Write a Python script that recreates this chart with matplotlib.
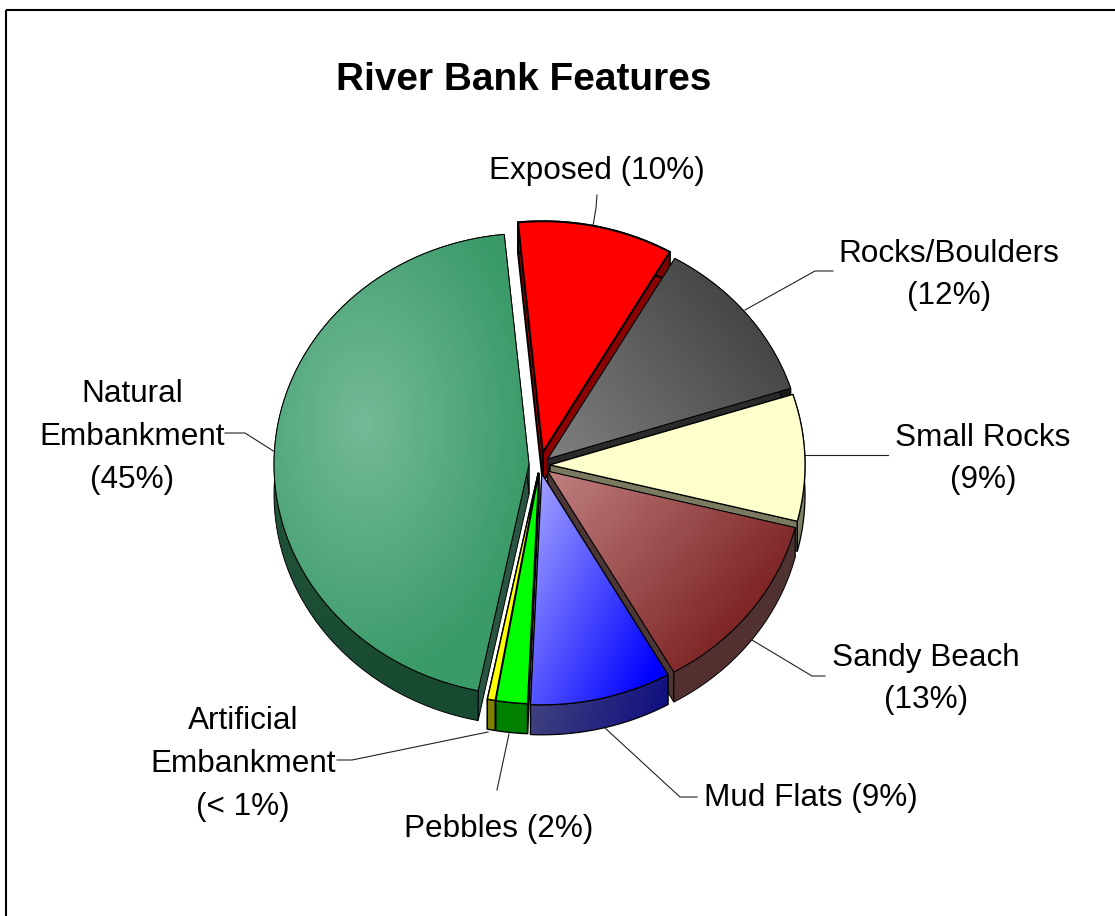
#!/usr/bin/env python3
"""River Bank Features: exploded 3D pie, drawn on a pixel-sized axes."""

import numpy as np
import matplotlib
matplotlib.use('Agg')
import matplotlib.pyplot as plt
from matplotlib.colors import to_rgb
from matplotlib.patches import Polygon, Rectangle

plt.rcParams['font.family'] = ['Liberation Sans', 'DejaVu Sans']

# clockwise from the top, as in the picture
categories = ['Exposed', 'Rocks/Boulders', 'Small Rocks', 'Sandy Beach',
              'Mud Flats', 'Pebbles', 'Artificial Embankment',
              'Natural Embankment']
values = [10, 12, 9, 13, 9, 2, 0.5, 45]
labels = ['Exposed (10%)', 'Rocks/Boulders\n(12%)', 'Small Rocks\n(9%)',
          'Sandy Beach\n(13%)', 'Mud Flats (9%)', 'Pebbles (2%)',
          'Artificial\nEmbankment\n(< 1%)', 'Natural\nEmbankment\n(45%)']

# --- geometry, in pixels ---
W, H = 1115, 916
CX, CY = 540, 465
RX, RY = 255, 231
DEPTH = 30
START = -5.5
PERSPECTIVE = 1.8  # degrees the front of the pie lags behind the back
explode = [13, 10, 10, 10, 9, 8, 8, 11]

# --- per slice style: top from/to colour, gradient heading and length ---
top_c1 = ['#ff0000', '#808080', '#ffffcc', '#c08080', '#a0a0ff', '#00ff00', '#ffff00', '#74ba98']
top_c2 = ['#ff0000', '#404040', '#ffffcc', '#7a1f1f', '#0000ff', '#00ff00', '#ffff00', '#3a9a68']
grad_dir = [0, 50, 0, 130, 115, 0, 0, 0]
grad_len = [1, 270, 1, 260, 185, 1, 1, 1]
side_c1 = ['#800000', '#1a1a1a', '#7f7f66', '#4a3434', '#45457f', '#008000', '#808000', '#2b5c46']
side_c2 = ['#800000', '#1a1a1a', '#7f7f66', '#553030', '#10107f', '#008000', '#808000', '#174a30']
wall_c = ['#8b0000', '#2a2a2a', '#7a7a60', '#4d3636', '#202040', '#006000', '#808000', '#2a5542']
edge_lw = [1.4, 0.7, 0.9, 0.7, 0.9, 1.0, 1.0, 0.7]
draw_order = [0, 1, 7, 2, 3, 6, 5, 4]

# --- label text centres and leader lines ---
label_xy = [(597, 171), (949, 275), (983, 459), (926, 679), (811, 798),
            (499, 829), (243, 764), (132, 437)]
leaders = [[(597, 195), (596, 208), (593, 226)],
           [(745, 310), (815, 271), (833, 271)],
           [(805, 455), (888, 455)],
           [(752, 640), (812, 676), (825, 676)],
           [(605, 728), (680, 797), (697, 797)],
           [(509, 734), (497, 790)],
           [(488, 732), (352, 760), (337, 760)],
           [(275, 452), (245, 433), (225, 433)]]


def warp(deg):
    return deg - PERSPECTIVE * np.abs(np.sin(np.radians(deg) / 2))


def arc(cx, cy, a0, a1):
    th = np.radians(warp(np.linspace(a0, a1, 80)))
    return np.column_stack([cx + RX * np.sin(th), cy - RY * np.cos(th)])


def fill_image(ax, verts, rgb, z):
    """Show an rgb function over the polygon's bounding box, clipped to it."""
    x0, y0 = np.floor(verts.min(axis=0))
    x1, y1 = np.ceil(verts.max(axis=0))
    xs, ys = np.meshgrid(np.arange(x0, x1 + 1), np.arange(y0, y1 + 1))
    im = ax.imshow(rgb(xs, ys), extent=(x0 - 0.5, x1 + 0.5, y1 + 0.5, y0 - 0.5),
                   origin='upper', zorder=z, aspect='auto', interpolation='bilinear')
    clip = Polygon(verts, closed=True, transform=ax.transData)
    im.set_clip_path(clip)


def linear(c1, c2, ox, oy, heading, length):
    c1, c2 = np.array(to_rgb(c1)), np.array(to_rgb(c2))
    dx, dy = np.sin(np.radians(heading)), -np.cos(np.radians(heading))

    def rgb(xs, ys):
        t = np.clip(((xs - ox) * dx + (ys - oy) * dy) / length, 0, 1)[..., None]
        return c1 + (c2 - c1) * t
    return rgb


def radial(c1, c2, ox, oy, ax_x, ax_y):
    c1, c2 = np.array(to_rgb(c1)), np.array(to_rgb(c2))

    def rgb(xs, ys):
        t = np.clip(np.hypot((xs - ox) / ax_x, (ys - oy) / ax_y), 0, 1)[..., None]
        return c1 + (c2 - c1) * t
    return rgb


def main():
    fig = plt.figure(figsize=(W / 100, H / 100), dpi=100, facecolor='white')
    ax = fig.add_axes([0, 0, 1, 1])

    spans = np.array(values) / sum(values) * 360
    ends = START + np.cumsum(spans)
    starts = ends - spans

    z = 2
    for i in draw_order:
        a0, a1 = starts[i], ends[i]
        mid = np.radians((a0 + a1) / 2)
        ox = CX + explode[i] * np.sin(mid)
        oy = CY - explode[i] * np.cos(mid)
        rim = arc(ox, oy, a0, a1)
        apex = np.array([ox, oy])
        drop = np.array([0, DEPTH])

        # radial walls
        for p in (rim[0], rim[-1]):
            wall = np.array([apex, p, p + drop, apex + drop])
            ax.add_patch(Polygon(wall, closed=True, fc=wall_c[i], ec='black',
                                 lw=edge_lw[i], zorder=z))
        z += 1

        # outer wall
        side = np.vstack([rim, (rim + drop)[::-1]])
        if side_c1[i] == side_c2[i]:
            ax.add_patch(Polygon(side, closed=True, fc=side_c1[i], ec='none', zorder=z))
        else:
            heading = 110 if i == 4 else 160
            fill_image(ax, side, linear(side_c1[i], side_c2[i], side[:, 0].min(),
                                        side[:, 1].min(), heading,
                                        max(np.ptp(side[:, 0]), np.ptp(side[:, 1]))), z)
        ax.add_patch(Polygon(side, closed=True, fc='none', ec='black',
                             lw=edge_lw[i], zorder=z + 1))
        z += 2

        # top face
        top = np.vstack([apex, rim])
        if i == 7:
            fill_image(ax, top, radial(top_c1[i], top_c2[i], ox - 165, oy - 40, 170, 260), z)
        elif top_c1[i] == top_c2[i]:
            ax.add_patch(Polygon(top, closed=True, fc=top_c1[i], ec='none', zorder=z))
        else:
            fill_image(ax, top, linear(top_c1[i], top_c2[i], ox, oy, grad_dir[i], grad_len[i]), z)
        ax.add_patch(Polygon(top, closed=True, fc='none', ec='black',
                             lw=edge_lw[i], joinstyle='miter', zorder=z + 1))
        z += 2

    for line in leaders:
        xs, ys = zip(*line)
        ax.plot(xs, ys, color='#222222', lw=0.8, zorder=1)

    for text, (x, y) in zip(labels, label_xy):
        ax.text(x, y, text, fontsize=22.7, ha='center', va='center',
                color='black', linespacing=1.55, zorder=z + 1)

    ax.text(524, 80, 'River Bank Features', fontsize=27.9, fontweight='bold',
            ha='center', va='center', color='black')

    # chart frame, only left and top fall inside the image
    ax.add_patch(Rectangle((6, 10), W + 20, H + 20, fc='none', ec='black', lw=1.5, zorder=1))

    ax.set_xlim(0, W)
    ax.set_ylim(H, 0)
    ax.axis('off')
    fig.savefig('out.png', dpi=100, facecolor='white')


if __name__ == '__main__':
    main()
